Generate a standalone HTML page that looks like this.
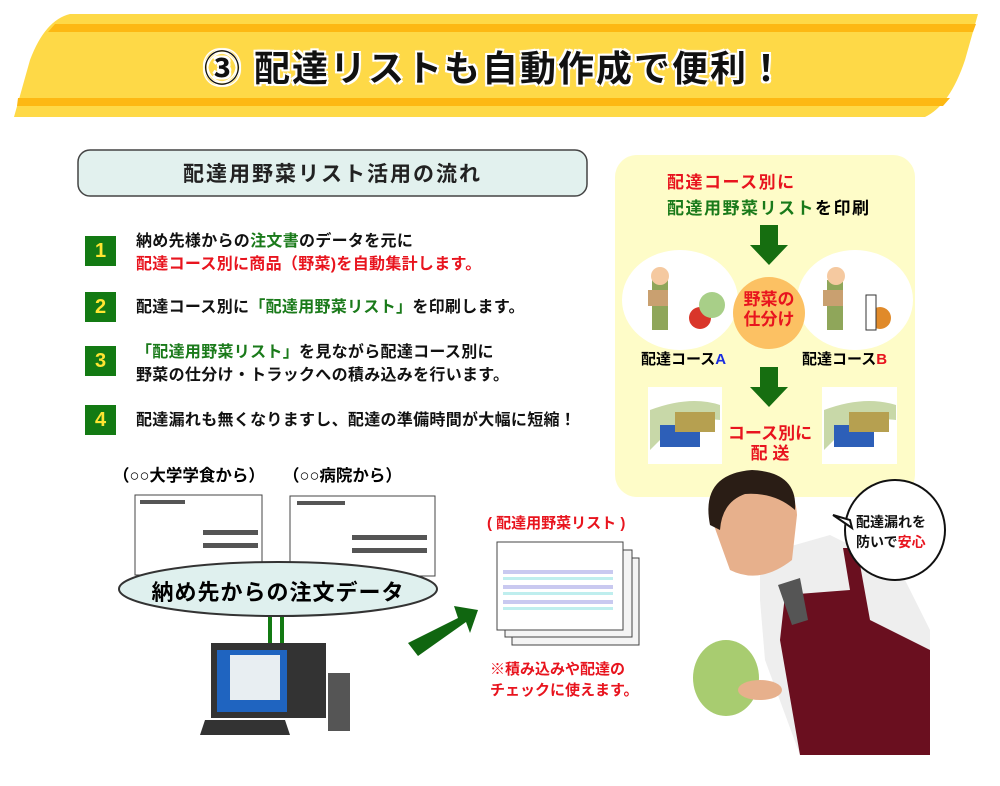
<!DOCTYPE html>
<html><head><meta charset="utf-8"><style>
body{margin:0;width:1000px;height:786px;position:relative;background:#fff;overflow:hidden;font-family:"Liberation Sans","Noto Sans CJK JP",sans-serif;font-weight:bold}
.a{position:absolute;white-space:nowrap}
.r{color:#e8141e}.g{color:#1a7a1a}
.num{position:absolute;left:85px;width:31px;height:30px;background:#137a13;color:#ffe632;font-size:20px;text-align:center;line-height:30px}
.st{font-size:16px;color:#111;line-height:23px;letter-spacing:0.3px}
</style></head><body>
<svg class="a" style="left:0;top:0" width="1000" height="786">
<path d="M70,14 L978,14 L965,60 Q950,105 925,117 L14,117 L30,60 Q45,20 70,14Z" fill="#fed947"/>
<polygon points="55,24 976,24 973,32 48,32" fill="#fdb813"/>
<polygon points="18,98 950,98 943,106 17,106" fill="#fdb813"/>
<rect x="615" y="155" width="300" height="342" rx="22" fill="#fefcc8"/>
<ellipse cx="680" cy="300" rx="58" ry="50" fill="#fff"/>
<ellipse cx="855" cy="300" rx="58" ry="50" fill="#fff"/>
<circle cx="769" cy="313" r="36" fill="#fcc163"/>
<polygon points="760,225 778,225 778,245 788,245 769,265 750,245 760,245" fill="#166e10"/>
<polygon points="760,367 778,367 778,387 788,387 769,407 750,387 760,387" fill="#166e10"/>
<g fill="#8fa65a"><rect x="652" y="280" width="16" height="50"/><rect x="827" y="280" width="16" height="50"/></g>
<circle cx="660" cy="276" r="9" fill="#f5c9a0"/><circle cx="836" cy="276" r="9" fill="#f5c9a0"/>
<rect x="648" y="290" width="20" height="16" fill="#c9a070"/><rect x="823" y="290" width="20" height="16" fill="#c9a070"/>
<circle cx="700" cy="318" r="11" fill="#d9362a"/><circle cx="712" cy="305" r="13" fill="#a8cf88"/>
<circle cx="880" cy="318" r="11" fill="#e08a2a"/><rect x="866" y="295" width="10" height="35" fill="#fff" stroke="#333"/>
<rect x="648" y="387" width="74" height="77" fill="#fff"/><rect x="822" y="387" width="75" height="77" fill="#fff"/>
<path d="M650,410 Q690,395 720,405 L720,420 Q680,415 660,440 L650,450Z" fill="#c8d8a8"/>
<path d="M824,410 Q864,395 896,405 L896,420 Q854,415 834,440 L824,450Z" fill="#c8d8a8"/>
<rect x="660" y="425" width="40" height="22" fill="#2d5fb8"/><rect x="675" y="412" width="40" height="20" fill="#b6a050"/>
<rect x="834" y="425" width="40" height="22" fill="#2d5fb8"/><rect x="849" y="412" width="40" height="20" fill="#b6a050"/>
<rect x="78" y="150" width="509" height="46" rx="12" fill="#e2f1ee" stroke="#444" stroke-width="1.5"/>
<rect x="135" y="495" width="127" height="80" fill="#fff" stroke="#444"/>
<rect x="290" y="496" width="145" height="80" fill="#fff" stroke="#444"/>
<g fill="#555"><rect x="140" y="500" width="45" height="4"/><rect x="297" y="501" width="48" height="4"/>
<rect x="203" y="530" width="55" height="5"/><rect x="203" y="543" width="55" height="5"/><rect x="352" y="535" width="75" height="5"/><rect x="352" y="548" width="75" height="5"/></g>
<ellipse cx="278" cy="589" rx="159" ry="27" fill="#dff0ee" stroke="#333" stroke-width="2"/>
<rect x="268" y="617" width="4" height="30" fill="#137a13"/><rect x="280" y="617" width="4" height="30" fill="#137a13"/>
<rect x="211" y="643" width="115" height="75" fill="#333"/><rect x="217" y="650" width="70" height="62" fill="#1f64c0"/>
<rect x="230" y="655" width="50" height="45" fill="#e8eef2"/>
<rect x="328" y="673" width="22" height="58" fill="#555"/>
<polygon points="205,720 285,720 290,735 200,735" fill="#333"/>
<polygon points="408,643 458,618 454,606 478,610 470,633 466,622 418,656" fill="#106610"/>
<rect x="512" y="558" width="127" height="87" fill="#f4f4f4" stroke="#444"/>
<rect x="505" y="550" width="127" height="87" fill="#f4f4f4" stroke="#444"/>
<rect x="497" y="542" width="126" height="88" fill="#fff" stroke="#444"/>
<g fill="#c9c9f0"><rect x="503" y="570" width="110" height="4"/><rect x="503" y="585" width="110" height="4"/><rect x="503" y="600" width="110" height="4"/></g>
<g fill="#bfeeee"><rect x="503" y="577" width="110" height="3"/><rect x="503" y="592" width="110" height="3"/><rect x="503" y="607" width="110" height="3"/></g>
<polygon points="760,555 830,535 900,570 930,630 930,755 800,755 765,660 760,600" fill="#eeeeee"/>
<polygon points="785,595 850,590 843,548 857,548 870,620 930,650 930,755 800,755 780,640" fill="#6a0f1f"/>
<polygon points="778,585 800,578 808,620 792,625" fill="#555"/>
<path d="M712,520 Q710,478 755,476 Q795,478 797,515 L792,560 Q760,585 730,570Z" fill="#e7b08c"/>
<path d="M710,525 Q700,474 752,470 Q798,472 795,510 Q775,492 745,494 Q722,502 720,530Z" fill="#2a1d15"/>
<ellipse cx="726" cy="678" rx="33" ry="38" fill="#a8cc70"/>
<ellipse cx="760" cy="690" rx="22" ry="10" fill="#e7b08c"/>
<circle cx="895" cy="530" r="50" fill="#fff" stroke="#111" stroke-width="2"/>
<polygon points="833,515 850,520 852,528" fill="#fff" stroke="#111" stroke-width="2"/>
</svg>
<div class="a" style="left:0;width:990px;top:40px;text-align:center;font-size:36px;letter-spacing:2px;color:#111;text-shadow:0 0 3px #fff,0 0 3px #fff,2px 2px 0 #fff,-2px -2px 0 #fff,2px -2px 0 #fff,-2px 2px 0 #fff">③ 配達リストも自動作成で便利！</div>
<div class="a" style="left:78px;width:509px;top:158px;text-align:center;font-size:21px;letter-spacing:2px;color:#222">配達用野菜リスト活用の流れ</div>
<div class="num" style="top:236px">1</div><div class="a st" style="left:136px;top:230px">納め先様からの<span class="g">注文書</span>のデータを元に<br><span class="r">配達コース別に商品（野菜)を自動集計します。</span></div>
<div class="num" style="top:292px">2</div><div class="a st" style="left:136px;top:296px">配達コース別に<span class="g">「配達用野菜リスト」</span>を印刷します。</div>
<div class="num" style="top:346px">3</div><div class="a st" style="left:136px;top:341px"><span class="g">「配達用野菜リスト」</span>を見ながら配達コース別に<br>野菜の仕分け・トラックへの積み込みを行います。</div>
<div class="num" style="top:405px">4</div><div class="a st r" style="left:136px;top:409px">配達漏れも無くなりますし、配達の準備時間が大幅に短縮！</div>
<div class="a" style="left:667px;top:170px;font-size:17px;letter-spacing:1.5px;line-height:26px"><span class="r">配達コース別に</span><br><span class="g">配達用野菜リスト</span>を印刷</div>
<div class="a r" style="left:731px;top:290px;width:76px;text-align:center;font-size:17px;line-height:20px">野菜の<br>仕分け</div>
<div class="a" style="left:641px;top:348px;font-size:15px">配達コース<span style="color:#1a2ee0">A</span></div>
<div class="a" style="left:802px;top:348px;font-size:15px">配達コース<span class="r">B</span></div>
<div class="a r" style="left:722px;top:424px;width:96px;text-align:center;font-size:17px;line-height:20px">コース別に<br>配 送</div>
<div class="a" style="left:113px;top:462px;font-size:16.5px">（○○大学学食から）</div>
<div class="a" style="left:283px;top:462px;font-size:16.5px">（○○病院から）</div>
<div class="a" style="left:118px;width:320px;top:575px;text-align:center;font-size:22px;letter-spacing:1px">納め先からの注文データ</div>
<div class="a r" style="left:487px;top:512px;font-size:15px">( 配達用野菜リスト )</div>
<div class="a r" style="left:490px;top:659px;font-size:15px;line-height:21px">※積み込みや配達の<br>チェックに使えます。</div>
<div class="a" style="left:856px;top:512px;font-size:14px;line-height:20px;color:#111">配達漏れを<br>防いで<span class="r">安心</span></div>
</body></html>
